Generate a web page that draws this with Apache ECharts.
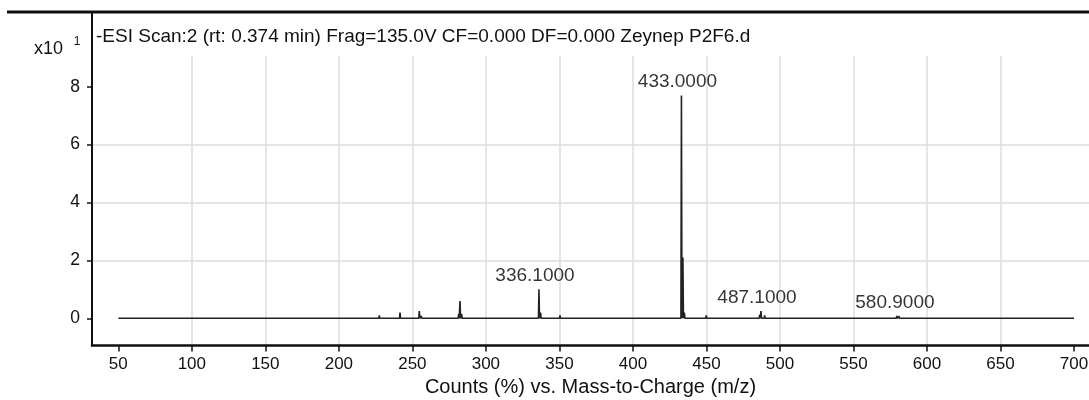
<!DOCTYPE html>
<html>
<head>
<meta charset="utf-8">
<script src="https://cdn.jsdelivr.net/npm/echarts@6/dist/echarts.min.js"></script>
<style>
  html, body { margin: 0; padding: 0; background: #fff; }
  #chart { width: 1089px; height: 400px; }
</style>
</head>
<body>
<div id="chart"></div>
<script>
// tick labels
const xTicks = [50, 100, 150, 200, 250, 300, 350, 400, 450, 500, 550, 600, 650, 700];
const yTicks = [0, 2, 4, 6, 8];

// peaks (m/z, counts x10^1)
const peakMz = [
  227.5, 241.6, 254.7, 256.0, 264.2, 281.5, 282.4, 283.5, 287, 290, 295, 300,
  309, 313, 318, 322, 327, 331, 336.1, 337.2, 350.4, 352, 362, 366, 370, 380,
  433.0, 434.0, 435.0, 449.9, 452, 459, 463, 469.4, 473, 479.6, 483, 486.2,
  487.1, 489.6, 517.6, 530, 538, 579.5, 580.9, 596, 615.7, 630.6, 644.7, 664.4
];
const peakInt = [
  0.10, 0.20, 0.25, 0.08, 0.05, 0.15, 0.60, 0.15, 0.05, 0.04, 0.04, 0.04,
  0.03, 0.04, 0.03, 0.04, 0.04, 0.05, 1.00, 0.20, 0.10, 0.05, 0.04, 0.04, 0.04, 0.03,
  7.70, 2.10, 0.20, 0.10, 0.05, 0.05, 0.04, 0.06, 0.04, 0.05, 0.04, 0.12,
  0.25, 0.10, 0.06, 0.04, 0.03, 0.08, 0.07, 0.05, 0.06, 0.05, 0.05, 0.02
];

// annotated peaks
const labelMz = [336.1, 433.0, 487.1, 580.9];
const labelInt = [1.00, 7.70, 0.25, 0.08];

const scanStart = 50;
const scanEnd = 700;

const titleText = '-ESI Scan:2 (rt: 0.374 min) Frag=135.0V CF=0.000 DF=0.000 Zeynep P2F6.d';

// build the stick profile: baseline, up to each peak, back to baseline
const halfWidth = 0.35;
const profile = [[scanStart, 0]];
for (let i = 0; i < peakMz.length; i++) {
  profile.push([peakMz[i] - halfWidth, 0]);
  profile.push([peakMz[i], peakInt[i]]);
  profile.push([peakMz[i] + halfWidth, 0]);
}
profile.push([scanEnd, 0]);

const chart = echarts.init(document.getElementById('chart'), null, { renderer: 'canvas' });
const font = 'Liberation Sans';

const option = {
  backgroundColor: '#fff',
  animation: false,
  textStyle: { fontFamily: font },
  grid: {
    left: 92,
    right: 0,
    top: 13,
    bottom: 54.5,
    containLabel: false,
    outerBoundsMode: 'none'
  },
  xAxis: {
    type: 'value',
    min: 32.1,
    max: 710.2,
    splitNumber: 13,
    name: 'Counts (%) vs. Mass-to-Charge (m/z)',
    nameLocation: 'middle',
    nameGap: 31,
    nameTextStyle: { fontSize: 20, color: '#111', fontFamily: font },
    axisLine: { onZero: false, lineStyle: { color: '#111', width: 2.5 } },
    axisTick: { customValues: xTicks, length: 6, lineStyle: { color: '#111', width: 1.5 } },
    axisLabel: { customValues: xTicks, margin: 10, fontSize: 17, color: '#111', fontFamily: font },
    splitLine: { show: true, showMinLine: false, showMaxLine: false, lineStyle: { color: '#dcdcdc', width: 1.5 } }
  },
  yAxis: {
    type: 'value',
    min: -0.94,
    max: 10.55,
    splitNumber: 5,
    axisLine: { show: true, onZero: false, lineStyle: { color: '#111', width: 2 } },
    axisTick: { show: true, customValues: yTicks, length: 5, lineStyle: { color: '#111', width: 1.5 } },
    axisLabel: { customValues: yTicks, margin: 12, fontSize: 17.5, color: '#111', fontFamily: font },
    splitLine: { show: true, showMinLine: false, showMaxLine: false, lineStyle: { color: '#dcdcdc', width: 1.5 } }
  },
  series: [
    {
      type: 'line',
      data: profile,
      showSymbol: false,
      lineStyle: { color: '#222', width: 1.6 },
      z: 3
    },
    {
      type: 'scatter',
      data: labelMz.map((m, i) => [m, labelInt[i]]),
      symbolSize: 0,
      label: {
        show: true,
        position: 'top',
        distance: 4,
        offset: [-4, 0],
        formatter: (p) => p.value[0].toFixed(4),
        fontSize: 19,
        color: '#000',
        fontFamily: font
      },
      z: 4
    }
  ],
  graphic: [
    {
      type: 'rect',
      z: 100,
      shape: { x: 94, y: 14, width: 1000, height: 42 },
      style: { fill: '#fff' }
    },
    {
      type: 'line',
      z: 101,
      shape: { x1: 7, y1: 12, x2: 1089, y2: 12 },
      style: { stroke: '#111', lineWidth: 3 }
    },
    {
      type: 'text',
      z: 102,
      x: 96,
      y: 37,
      style: { text: titleText, font: '19px "Liberation Sans"', fill: '#111', textVerticalAlign: 'middle' }
    },
    {
      type: 'text',
      z: 102,
      x: 63,
      y: 49,
      style: { text: 'x10', font: '18px "Liberation Sans"', fill: '#111', textAlign: 'right', textVerticalAlign: 'middle' }
    },
    {
      type: 'text',
      z: 102,
      x: 77,
      y: 42,
      style: { text: '1', font: '12px "Liberation Sans"', fill: '#111', textAlign: 'center', textVerticalAlign: 'middle' }
    }
  ]
};

chart.setOption(option);
</script>
</body>
</html>
